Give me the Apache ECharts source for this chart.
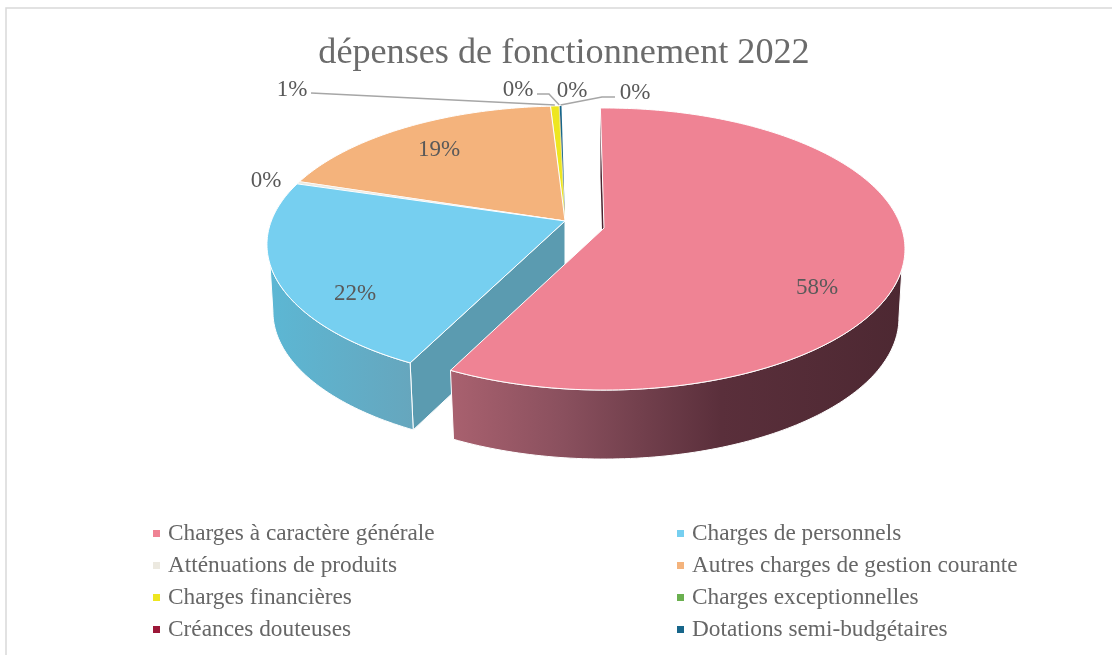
<!DOCTYPE html>
<html><head><meta charset="utf-8"><style>html,body{margin:0;padding:0;background:#fff}#c{width:1112px;height:655px}</style>
<script src="https://cdn.jsdelivr.net/npm/echarts@6/dist/echarts.min.js"></script></head>
<body><div id="c"></div><script>
const titleText = 'dépenses de fonctionnement 2022';
const categories = ['Charges à caractère générale','Charges de personnels','Atténuations de produits','Autres charges de gestion courante','Charges financières','Charges exceptionnelles','Créances douteuses','Dotations semi-budgétaires'];
const values = [57.6,22.3,0.3,19.1,0.55,0.02,0.01,0.12];
const colors = ['#ef8394','#76cff0','#ece9e0','#f4b37c','#eee620','#6ab04f','#9c1738','#17668a'];
const exploded = [true,false,false,false,false,false,false,false];
// layout of the tilted pie
const pieCentre = {x:565,y:221}, explodeOffset = {x:39,y:7};
const radius = {a:293.7,b:134.5,k:0.17,depth:67}, radiusExploded = {a:297.6,b:137.9,k:0.149,depth:69};
const baseShrink = 0.98, startDeg = -0.8, wallInset = 8;
const labelPos = [[817,288],[355,294],[266,181],[439,150],[292,90],[518,90],[572,91],[635,93]];
const leaderStart = [null,null,null,null,[[311,93]],[[537,94],[549,94]],null,[[615,97],[602,97]]];
const wallFill = {
  0:[[0,'#a9616f'],[0.25,'#8a505e'],[0.6,'#5a2f3b'],[1,'#4d2832']],
  1:[[0,'#5cb7d4'],[1,'#66a6bd']]
};
const faceFill = {0:'#4a2530',1:'#5b9bb0',2:'#b9b7ae',3:'#c08c60',4:'#b8b21a',5:'#4a8a38',6:'#7a122c',7:'#0e4a5e'};

const total = values.reduce((s,v)=>s+v,0);
const startOf = []; let acc = 0;
values.forEach(v=>{startOf.push(acc); acc+=v;});
const deg = p => p/total*360 + startDeg;
function sweep(a,b){
  const out=[]; const n=Math.max(2,Math.ceil(b-a));
  for(let k=0;k<=n;k++) out.push(a+(b-a)*k/n);
  return out;
}
function geom(i){
  const apex = exploded[i] ? {x:pieCentre.x+explodeOffset.x,y:pieCentre.y+explodeOffset.y} : pieCentre;
  const r = exploded[i] ? radiusExploded : radius;
  const rim = t => { const a=t*Math.PI/180, d=1+r.k*Math.cos(a);
    return [apex.x + r.a*Math.sin(a)/d, apex.y - r.b*Math.cos(a)/d]; };
  const base = p => [apex.x+(p[0]-apex.x)*baseShrink, p[1]+r.depth];
  const ext = Math.acos(-r.k)*180/Math.PI;
  return {apex,rim,base,ext,depth:r.depth};
}
function renderSlice(params, api){
  const i = params.seriesIndex;
  const v = api.value(0), t0 = deg(startOf[i]), t1 = t0 + v/total*360;
  const g = geom(i), ap=[g.apex.x,g.apex.y];
  const arc=sweep(t0,t1).map(g.rim);
  const baseApex = [ap[0],ap[1]+g.depth];
  const kids=[];
  const edge = v<0.2?0:(v<1?0.6:1);
  // cut face
  kids.push({type:'polygon',shape:{points:[ap,arc[0],g.base(arc[0]),baseApex]},style:{fill:faceFill[i],stroke:i===1?'#fff':null,lineWidth:i===1?1:0}});
  // outer wall, only the part facing the viewer
  const rA=Math.max(t0,g.ext+wallInset), rB=Math.min(t1,360-g.ext-wallInset);
  const bA=Math.max(t0,g.ext), bB=Math.min(t1,360-g.ext);
  if(rB>rA && bB>bA){
    const top=sweep(rA,rB).map(g.rim), bot=sweep(bA,bB).map(t=>g.base(g.rim(t))).reverse();
    const stops = wallFill[i]||[[0,faceFill[i]],[1,faceFill[i]]];
    kids.push({type:'polygon',shape:{points:top.concat(bot)},style:{
      fill:{type:'linear',x:0,y:0,x2:1,y2:0,colorStops:stops.map(s=>({offset:s[0],color:s[1]}))},
      stroke:edge?'#fff':null,lineWidth:edge}});
  }
  // top
  kids.push({type:'polygon',shape:{points:[ap].concat(arc)},style:{fill:api.visual('color'),stroke:edge?'#fff':null,lineWidth:edge}});
  // leader
  if(leaderStart[i]){
    const end=g.rim((t0+t1)/2);
    kids.push({type:'polyline',shape:{points:leaderStart[i].concat([[end[0],end[1]-1]])},style:{fill:null,stroke:'#a6a6a6',lineWidth:1.5}});
  }
  // label
  kids.push({type:'text',style:{x:labelPos[i][0],y:labelPos[i][1],text:Math.round(v/total*100)+'%',
    fill:'#595959',font:'23px "Liberation Serif"',align:'center',verticalAlign:'middle'}});
  return {type:'group',children:kids};
}
const series = categories.map((name,i)=>({
  type:'custom',name,coordinateSystem:'none',renderItem:renderSlice,
  data:[[values[i]]],itemStyle:{color:colors[i]},
  z:10-i,silent:true,animation:false
}));
const legendBase = {orient:'vertical',icon:'rect',itemWidth:7,itemHeight:7,itemGap:9,selectedMode:false,
  textStyle:{fontFamily:'Liberation Serif',fontSize:23.3,color:'#666666',padding:[0,0,0,3]}};
const chart = echarts.init(document.getElementById('c'),null,{renderer:'canvas'});
chart.setOption({
  animation:false,backgroundColor:'#fff',
  title:{text:titleText,left:559,textAlign:'center',top:30,textStyle:{fontFamily:'Liberation Serif',fontSize:36.2,fontWeight:'normal',color:'#6b6b6b'}},
  legend:[
    Object.assign({},legendBase,{left:148,top:517,data:[categories[0],categories[2],categories[4],categories[6]]}),
    Object.assign({},legendBase,{left:672,top:517,data:[categories[1],categories[3],categories[5],categories[7]]})
  ],
  graphic:[{type:'rect',shape:{x:6,y:8,width:1300,height:900},style:{fill:null,stroke:'#d9d9d9',lineWidth:1.5},silent:true,z:0}],
  series
});
</script></body></html>
